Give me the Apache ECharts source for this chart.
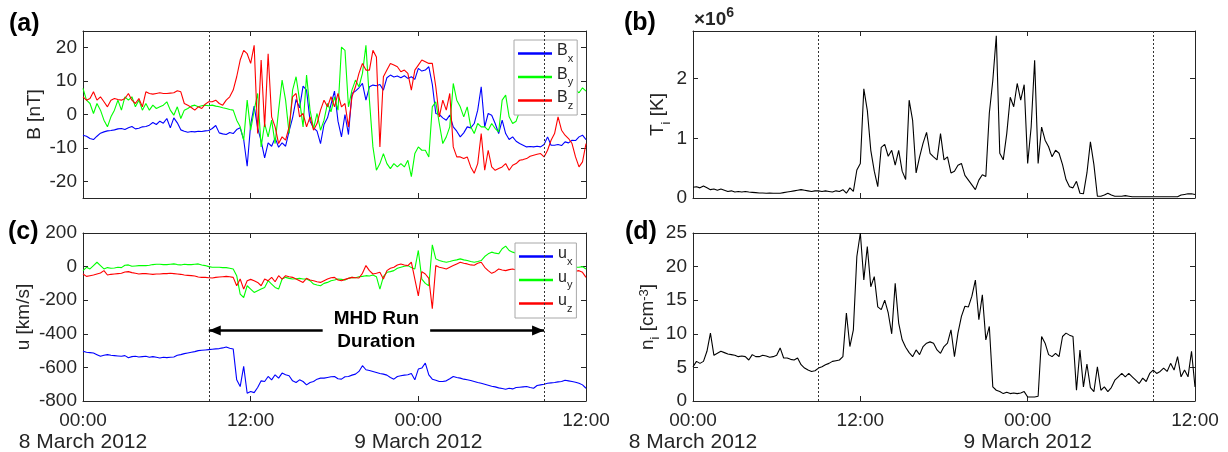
<!DOCTYPE html>
<html>
<head>
<meta charset="utf-8">
<script src="https://cdn.jsdelivr.net/npm/echarts@6/dist/echarts.min.js"></script>
<style>
html,body{margin:0;padding:0;background:#fff;}
#chart{width:1228px;height:452px;}
</style>
</head>
<body>
<div id="chart"></div>
<script>
// ---------------- DATA ----------------
// samples every 0.25 h starting 00:00, 8 March 2012 (145 samples -> 36 h)
const STEP_H = 0.25;

const bxValues = [-6.2,-6.5,-7.2,-7.5,-6.5,-5.6,-5.2,-4.9,-4.8,-4.6,
 -4.3,-4.2,-4.5,-4.0,-3.6,-4.3,-4.1,-3.7,-3.6,-3.2,
 -2.4,-3.0,-2.0,-2.6,-1.2,-4.0,-1.0,-2.5,-4.6,-5.0,
 -5.3,-5.1,-5.2,-5.0,-5.1,-4.9,-4.8,-4.2,-3.3,-5.5,
 -5.8,-6.0,-5.4,-5.7,-4.5,-4.0,-7.5,-15.5,-3.0,2.5,
 -4.0,-8.0,-13.0,-8.5,-9.5,-7.0,-9.8,-8.5,-9.5,-5.0,
 -1.0,4.5,2.0,8.5,7.3,-2.0,-4.0,-5.0,-8.7,-3.0,
 -1.0,3.0,7.0,-2.0,-6.7,0.0,-6.0,6.3,7.0,8.0,
 9.3,4.3,8.3,8.8,8.6,9.0,7.3,11.0,11.8,11.2,
 11.5,11.0,11.6,10.8,11.3,10.5,13.8,13.0,13.3,14.3,
 9.0,0.3,0.0,-1.0,-1.7,-0.2,-3.7,-5.0,-6.7,-5.5,
 -3.7,-4.0,-2.7,1.3,8.3,-3.7,0.3,-0.2,-2.7,-5.7,
 -1.7,-5.7,-7.5,-6.7,-8.0,-8.7,-9.2,-9.7,-9.6,-9.7,
 -9.5,-9.7,-9.0,-6.7,-9.2,-9.2,-9.0,-9.3,-8.2,-8.5,
 -7.7,-7.8,-6.7,-6.2,-7.5];

const byValues = [7.8,4.3,3.3,0.3,3.3,1.3,-1.7,-3.7,-0.7,1.3,
 4.3,1.3,5.3,4.3,5.3,2.3,4.3,1.3,3.3,1.3,
 2.8,1.8,2.3,2.8,3.8,1.3,-0.2,2.3,-1.2,1.3,
 1.8,2.5,2.8,2.3,2.6,2.8,2.6,2.8,2.5,2.3,
 2.0,1.8,1.5,1.3,-1.7,-3.7,-7.7,4.3,-4.7,1.3,
 6.3,-9.7,-2.7,-6.7,-1.7,-8.7,1.3,10.3,4.3,-5.7,
 7.3,11.3,4.3,-3.7,11.8,1.3,-4.2,0.3,-4.7,-1.7,
 3.3,0.8,5.3,1.3,20.2,19.2,2.3,7.3,10.3,8.3,
 12.3,20.7,4.3,-9.7,-16.7,-14.7,-11.7,-14.7,-16.2,-14.7,
 -15.7,-14.7,-15.7,-13.7,-18.6,-11.7,-9.7,-10.7,-10.7,-12.7,
 2.3,3.8,-2.7,-8.7,-6.7,-3.7,9.3,4.3,2.3,-0.7,
 2.3,-3.7,-5.7,-2.7,-3.7,-3.7,-4.7,-2.7,-4.2,-5.2,
 4.3,5.8,-0.7,-2.7,-2.0,1.0,3.0,2.0,4.0,3.0,
 5.0,4.0,6.0,5.0,6.0,7.0,5.0,6.0,7.0,6.0,
 7.0,7.5,6.5,8.0,7.0];

const bzValues = [5.3,4.3,4.8,6.8,4.3,5.3,3.8,2.3,4.3,4.8,
 4.5,4.3,4.8,6.3,4.3,3.3,4.8,2.3,6.8,6.3,
 6.1,6.3,6.5,6.3,6.3,6.4,6.5,7.1,6.8,3.3,
 2.8,2.1,1.3,2.3,1.8,3.1,3.8,3.8,4.3,3.3,
 2.8,4.3,5.3,7.3,11.3,16.3,19.2,18.2,15.3,20.7,
 -5.7,16.3,-3.7,18.2,-0.7,-3.7,-8.7,-6.7,-7.7,-3.7,
 5.3,6.3,-0.7,0.3,-3.7,-0.7,-4.7,-2.7,1.3,4.3,
 2.3,5.3,2.3,6.3,2.3,3.3,-3.7,5.3,8.3,12.3,
 15.3,13.3,13.3,19.2,17.2,-9.7,11.3,13.3,15.3,14.8,
 14.3,12.8,13.3,12.3,7.3,13.3,14.8,16.3,15.8,15.3,
 15.3,8.3,-0.7,4.3,1.3,6.3,-9.7,-12.7,-12.7,-13.2,
 -12.7,-15.7,-17.6,-14.7,-5.7,-16.7,-10.7,-15.7,-16.7,-16.2,
 -15.7,-14.7,-16.7,-15.2,-14.7,-13.7,-13.5,-13.2,-12.5,-12.2,
 -11.9,-11.7,-12.7,-10.7,-7.7,-5.7,-0.7,-4.7,-6.2,-7.2,
 -8.7,-12.7,-15.7,-14.2,-8.7];

// ion temperature in units of 10^6 K
const tiValues = [0.18,0.19,0.17,0.20,0.17,0.14,0.15,0.13,0.15,0.13,
 0.11,0.12,0.10,0.11,0.10,0.11,0.10,0.095,0.09,0.085,
 0.085,0.08,0.085,0.08,0.08,0.08,0.09,0.10,0.11,0.12,
 0.13,0.14,0.13,0.12,0.11,0.12,0.12,0.11,0.12,0.11,
 0.10,0.12,0.11,0.14,0.08,0.17,0.11,0.47,0.58,1.83,
 1.47,0.8,0.45,0.19,0.85,0.9,0.7,0.8,0.55,0.8,
 0.45,0.31,1.64,1.3,0.42,0.69,0.92,1.1,0.75,0.69,
 0.64,1.08,0.64,0.69,0.42,0.45,0.55,0.58,0.38,0.30,
 0.22,0.14,0.30,0.39,0.36,1.42,1.97,2.72,0.75,0.64,
 1.08,1.69,1.53,1.92,1.64,1.9,0.58,1.19,2.31,0.58,
 1.19,0.97,0.86,0.69,0.8,0.75,0.56,0.31,0.19,0.17,
 0.28,0.08,0.07,0.42,0.94,0.56,0.03,0.03,0.05,0.08,
 0.05,0.03,0.03,0.03,0.04,0.03,0.02,0.02,0.02,0.02,
 0.02,0.02,0.02,0.02,0.02,0.02,0.02,0.02,0.02,0.02,
 0.05,0.06,0.07,0.07,0.06];

const uxValues = [-504,-510,-512,-514,-524,-534,-528,-524,-528,-530,
 -532,-534,-530,-542,-536,-534,-538,-536,-534,-540,
 -536,-540,-544,-540,-542,-540,-538,-528,-524,-518,
 -514,-510,-506,-500,-498,-496,-494,-492,-490,-488,
 -484,-478,-486,-490,-674,-714,-594,-754,-744,-750,
 -720,-680,-684,-654,-674,-644,-664,-634,-644,-650,
 -680,-690,-674,-684,-704,-690,-684,-670,-664,-664,
 -660,-656,-654,-668,-670,-656,-654,-646,-640,-624,
 -590,-614,-618,-624,-630,-636,-640,-646,-660,-670,
 -654,-650,-646,-644,-636,-674,-610,-604,-574,-644,
 -670,-676,-684,-684,-680,-668,-654,-660,-664,-670,
 -674,-678,-684,-690,-694,-700,-706,-712,-716,-722,
 -726,-730,-724,-728,-720,-718,-716,-714,-720,-724,
 -708,-704,-700,-694,-692,-690,-686,-684,-676,-680,
 -684,-688,-694,-704,-724];

const uyValues = [-24,-4,-14,6,26,6,-14,-6,-10,-8,
 -4,-6,8,10,2,4,6,6,6,8,
 12,14,14,12,12,14,16,12,10,14,
 12,12,14,16,10,6,0,-4,-4,-4,
 -6,-6,-10,-14,-54,-164,-184,-114,-134,-154,
 -144,-134,-124,-84,-104,-124,-134,-74,-64,-70,
 -74,-72,-70,-74,-74,-84,-104,-110,-114,-100,
 -94,-84,-80,-74,-76,-80,-70,-64,-66,-60,
 -58,-54,-56,-50,-60,-134,-60,-34,-30,-24,
 -10,-4,2,6,-6,-14,96,-74,-100,-114,
 130,46,36,30,26,30,36,40,46,40,
 36,30,26,30,36,60,76,86,80,76,
 106,122,96,86,80,70,84,76,90,72,
 66,60,50,40,30,24,18,10,6,0,
 4,-4,-4,0,-14];

const uzValues = [-44,-58,-54,-50,-44,-38,-24,-50,-46,-44,
 -42,-40,-32,-30,-36,-40,-44,-42,-42,-44,
 -46,-44,-44,-42,-42,-40,-42,-44,-46,-50,
 -52,-54,-56,-62,-64,-64,-66,-68,-64,-62,
 -60,-58,-60,-64,-114,-74,-134,-84,-76,-84,
 -94,-114,-74,-84,-64,-90,-54,-74,-54,-60,
 -64,-74,-84,-94,-70,-80,-84,-90,-94,-84,
 -74,-66,-64,-80,-84,-76,-70,-64,-66,-68,
 -40,6,-24,-44,-40,-34,-74,-24,-10,-4,
 10,16,10,6,26,-74,-174,-30,-44,-70,
 -250,6,-4,-8,-14,-4,6,16,26,20,
 16,10,8,20,26,-4,-24,-40,-30,-14,
 -20,-24,-18,-14,-20,-24,-16,-28,-20,-18,
 -24,-30,-20,-14,-24,-18,-20,-26,-14,-20,
 -24,-28,-24,-34,-64];

const niValues = [5.1,5.9,5.6,5.9,7.4,10.1,6.8,7.1,7.4,7.2,
 7.0,6.9,6.8,6.6,6.7,6.6,6.1,6.9,6.6,6.6,
 6.8,6.7,6.5,6.6,6.8,7.9,6.4,6.4,6.2,6.1,
 6.4,5.4,4.9,4.6,4.4,4.5,4.9,5.1,5.4,5.6,
 5.9,6.0,6.1,6.6,13.1,8.1,10.6,21.5,25,18,
 23,17,18.5,14,13.6,15,13.1,10,17.5,11.6,
 9.1,8.0,7.2,6.6,7.6,6.9,8.1,8.6,8.8,8.6,
 7.6,7.1,8.1,8.6,10.6,6.6,10.1,12.6,14.1,14,
 15.6,18,12.1,15.8,9.1,11.1,2.1,1.6,1.4,1.1,
 1.3,1.1,1.2,1.1,1.2,1.4,0.6,0.6,0.6,0.7,
 9.6,8.6,6.9,6.6,7.1,6.6,9.6,10.1,9.8,9.6,
 1.6,7.6,2.1,5.5,2.0,1.4,5.1,1.6,2.1,1.4,
 2.0,3.1,3.6,4.1,3.6,4.1,3.6,3.1,2.6,3.4,
 2.9,4.1,4.6,4.1,4.4,4.9,4.4,5.6,4.6,6.6,
 3.6,4.6,3.6,7.4,2.1];

// axis ticks / labels
const xTickTimes = ['00:00', '12:00', '00:00', '12:00'];
const xTickDates = ['8 March 2012', '', '9 March 2012', ''];
const bTicks = [-20, -10, 0, 10, 20];
const tiTicks = [0, 1, 2];
const panelLabels = ['(a)', '(b)', '(c)', '(d)'];

// MHD run window (hours from 00:00 8 March) and annotation
const runStartH = 9;
const runEndH = 33;
const arrowU = -380;
const runText = 'MHD Run\nDuration';

// ---------------- CHART ----------------
const FONT = "'Liberation Sans', Arial, Helvetica, sans-serif";
const AX = '#262626';
const toPairs = arr => arr.map((v, i) => [i * STEP_H, v]);

const grids = [
  {left: 83, top: 31, width: 503, height: 167},
  {left: 693, top: 31, width: 502, height: 167},
  {left: 83, top: 233, width: 503, height: 168},
  {left: 693, top: 233, width: 502, height: 168},
  {left: 83, top: 31, width: 503, height: 370},
  {left: 693, top: 31, width: 502, height: 370}
].map(g => Object.assign({containLabel: false, outerBoundsMode: 'none'}, g));

const tickStyle = {show: true, inside: true, length: 5, lineStyle: {color: AX, width: 1}};
const lineStyleAx = {show: true, onZero: false, lineStyle: {color: AX, width: 1}};

const xLabel = {
  show: true, margin: 9, color: AX, fontFamily: FONT,
  formatter: v => {
    const i = Math.round(v / 12);
    const d = xTickDates[i];
    return '{t|' + xTickTimes[i] + '}' + (d ? '\n{d|' + d + '}' : '');
  },
  rich: {
    t: {fontSize: 19, lineHeight: 21, color: AX, fontFamily: FONT},
    d: {fontSize: 21, lineHeight: 23, color: AX, fontFamily: FONT}
  }
};

const xAxes = [];
for (let g = 0; g < 4; g++) {
  const base = {type: 'value', gridIndex: g, min: 0, max: 36, interval: 12,
    axisLine: lineStyleAx, axisTick: tickStyle, splitLine: {show: false}};
  xAxes.push(Object.assign({}, base, {position: 'bottom',
    axisLabel: g >= 2 ? xLabel : {show: false}}));
  xAxes.push(Object.assign({}, base, {position: 'top', axisLabel: {show: false}}));
}
xAxes.push({type: 'value', gridIndex: 4, min: 0, max: 36, show: false});
xAxes.push({type: 'value', gridIndex: 5, min: 0, max: 36, show: false});

const yLabelBase = {show: true, margin: 6, color: AX, fontSize: 19, fontFamily: FONT};
const subRich = {
  m: {fontSize: 19, color: AX, fontFamily: FONT, verticalAlign: 'top', lineHeight: 19},
  s: {fontSize: 13, color: AX, fontFamily: FONT, verticalAlign: 'top', padding: [11, 0, 0, 0]},
  p: {fontSize: 13, color: AX, fontFamily: FONT, verticalAlign: 'top', padding: [0, 0, 0, 0]}
};

function yPair(g, cfg) {
  const left = {type: 'value', gridIndex: g, position: 'left', min: cfg.min, max: cfg.max,
    axisLine: lineStyleAx, splitLine: {show: false},
    axisTick: Object.assign({}, tickStyle),
    axisLabel: Object.assign({}, yLabelBase, cfg.label || {}),
    name: cfg.name, nameLocation: 'middle', nameGap: cfg.nameGap, nameRotate: 90,
    nameTextStyle: Object.assign({fontSize: 19, color: AX, fontFamily: FONT, lineHeight: 22}, cfg.nameStyle || {})};
  const right = {type: 'value', gridIndex: g, position: 'right', min: cfg.min, max: cfg.max,
    axisLine: lineStyleAx, splitLine: {show: false},
    axisTick: Object.assign({}, tickStyle), axisLabel: {show: false}};
  if (cfg.interval) { left.interval = cfg.interval; right.interval = cfg.interval; }
  if (cfg.custom) {
    left.axisLabel.customValues = cfg.custom;
    left.axisTick.customValues = cfg.custom;
    right.axisTick.customValues = cfg.custom;
  }
  return [left, right];
}

const yAxes = [].concat(
  yPair(0, {min: -25, max: 25, custom: bTicks, name: 'B [nT]', nameGap: 37}),
  yPair(1, {min: 0, max: 2.8, custom: tiTicks, name: '{m|T}{s|i}{m| [K]}', nameGap: 22,
            nameStyle: {rich: subRich}}),
  yPair(2, {min: -800, max: 200, interval: 200, name: 'u [km/s]', nameGap: 48}),
  yPair(3, {min: 0, max: 25, interval: 5, name: '{m|n}{s|i}{m| [cm}{p|-3}{m|]}', nameGap: 31,
            nameStyle: {rich: subRich}}),
  [{type: 'value', gridIndex: 4, min: 0, max: 1, show: false},
   {type: 'value', gridIndex: 5, min: 0, max: 1, show: false}]
);

function lineSeries(name, values, color, g) {
  return {name: name, type: 'line', xAxisIndex: 2 * g, yAxisIndex: 2 * g,
    data: toPairs(values), showSymbol: false, symbol: 'none', animation: false,
    lineStyle: {color: color, width: 1.1}, itemStyle: {color: color}, clip: true, z: 2};
}

const dashedMark = {
  silent: true, symbol: ['none', 'none'], animation: false, label: {show: false},
  lineStyle: {color: '#333', width: 1, type: [2, 2]},
  data: [{xAxis: runStartH}, {xAxis: runEndH}]
};

const series = [
  lineSeries('Bx', bxValues, '#0000ff', 0),
  lineSeries('By', byValues, '#00ff00', 0),
  lineSeries('Bz', bzValues, '#ff0000', 0),
  lineSeries('Ti', tiValues, '#000000', 1),
  lineSeries('ux', uxValues, '#0000ff', 2),
  lineSeries('uy', uyValues, '#00ff00', 2),
  lineSeries('uz', uzValues, '#ff0000', 2),
  lineSeries('ni', niValues, '#000000', 3),
  {type: 'line', xAxisIndex: 8, yAxisIndex: 8, data: [], showSymbol: false, markLine: dashedMark, z: 4},
  {type: 'line', xAxisIndex: 9, yAxisIndex: 9, data: [], showSymbol: false, markLine: dashedMark, z: 4},
  {type: 'line', xAxisIndex: 4, yAxisIndex: 4, data: [[runStartH, arrowU]], showSymbol: false,
   symbol: 'none', lineStyle: {width: 0}, z: 5,
   markLine: {silent: true, animation: false, symbol: ['triangle', 'triangle'],
     symbolSize: [10, 12], symbolOffset: [[0, 6], [0, 6]],
     label: {show: false},
     lineStyle: {color: '#000', width: 2.5, type: 'solid'},
     data: [[{coord: [runStartH, arrowU]}, {coord: [runEndH, arrowU]}]]}},
  {type: 'scatter', xAxisIndex: 4, yAxisIndex: 4, z: 6, silent: true, animation: false,
   symbolSize: 1, itemStyle: {color: 'rgba(255,255,255,0)', opacity: 1},
   data: [[(runStartH + runEndH) / 2, arrowU]],
   label: {show: true, position: 'inside', formatter: runText, color: '#000', opacity: 1,
     fontFamily: FONT, fontWeight: 'bold', fontSize: 19, lineHeight: 22.5,
     backgroundColor: '#fff', padding: [1, 11, 1, 11]}}
];

const legendRich = {
  m: {fontSize: 16, color: AX, fontFamily: FONT, verticalAlign: 'top'},
  s: {fontSize: 11, color: AX, fontFamily: FONT, verticalAlign: 'top', padding: [10, 0, 0, 0]}
};
const legendBase = {
  orient: 'vertical', icon: 'rect', itemWidth: 34, itemHeight: 2.5, itemGap: 2.5,
  padding: [3, 4, 4, 4], backgroundColor: '#fff', borderColor: '#a8a8a8', borderWidth: 1,
  borderRadius: 0, selectedMode: false,
  formatter: n => '{m|' + n[0] + '}{s|' + n[1] + '}',
  textStyle: {rich: legendRich, color: AX, fontFamily: FONT}
};
const legends = [
  Object.assign({}, legendBase, {data: ['Bx', 'By', 'Bz'], left: 514, top: 40}),
  Object.assign({}, legendBase, {data: ['ux', 'uy', 'uz'], left: 515, top: 243})
];

const labelPos = [[9, 12], [624, 11], [8, 220], [625, 220]];
const titles = panelLabels.map((t, i) => ({
  text: t, left: labelPos[i][0], top: labelPos[i][1], padding: 0,
  textStyle: {fontSize: 25, fontWeight: 'bold', color: '#000', fontFamily: FONT, lineHeight: 25}
}));
titles.push({
  text: '{a|\u00d710}{p|6}', left: 694, top: 6, padding: 0,
  textStyle: {rich: {
    a: {fontSize: 19, color: AX, fontFamily: FONT, verticalAlign: 'bottom'},
    p: {fontSize: 14, color: AX, fontFamily: FONT, verticalAlign: 'bottom', padding: [0, 0, 9, 0]}
  }}
});

const chart = echarts.init(document.getElementById('chart'), null, {renderer: 'canvas'});
chart.setOption({
  animation: false,
  backgroundColor: '#fff',
  textStyle: {fontFamily: FONT},
  title: titles,
  legend: legends,
  grid: grids,
  xAxis: xAxes,
  yAxis: yAxes,
  series: series
});
</script>
</body>
</html>
